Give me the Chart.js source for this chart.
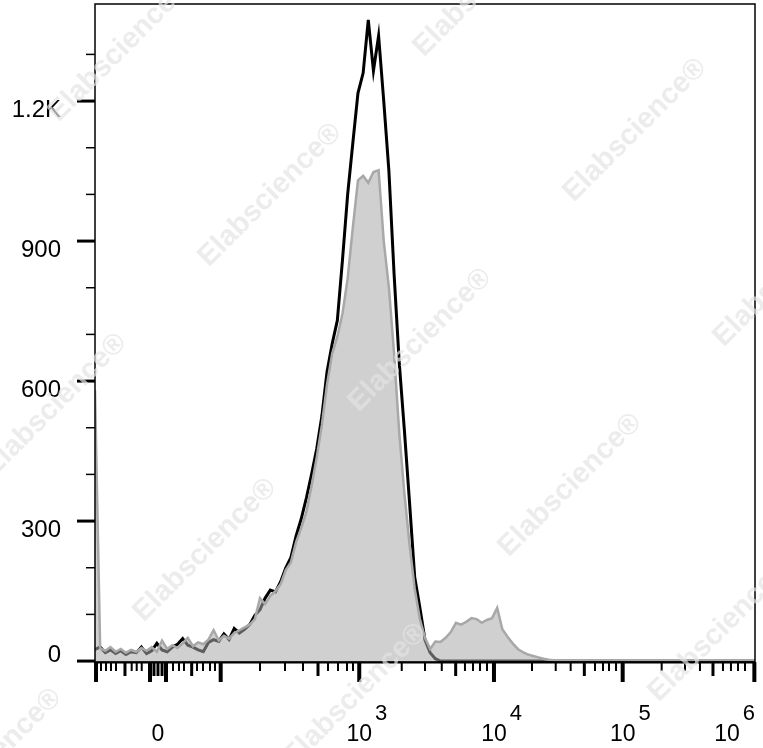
<!DOCTYPE html>
<html>
<head>
<meta charset="utf-8">
<title>Histogram</title>
<script src="https://cdn.jsdelivr.net/npm/chart.js@4.4.1/dist/chart.umd.min.js"></script>
<style>
  html, body { margin: 0; padding: 0; background: #fff; }
  canvas { display: block; }
</style>
</head>
<body>
<canvas id="histChart" width="763" height="748"></canvas>
<script>
// x axis is in display channels (0..1024), one point every 8 channels
const binWidth = 8;

// filled grey histogram
const controlCounts = [
    580, 28, 22, 30, 20, 26, 18, 24, 20, 28,
    22, 30, 20, 44, 26, 34, 28, 38, 50, 32,
    40, 36, 46, 66, 44, 54, 48, 60, 66, 72,
    78, 90, 135, 122, 140, 150, 165, 195, 212, 255,
    285, 320, 375, 436, 506, 593, 659, 695, 745, 820,
    929, 1030, 1040, 1025, 1048, 1052, 900, 800, 660, 490,
    360, 250, 155, 90, 50, 26, 42, 41, 50, 62,
    82, 78, 84, 92, 90, 82, 88, 92, 114, 68,
    52, 38, 26, 19, 14, 11, 8, 5, 3, 2,
    2, 2, 2, 2, 2, 2, 2, 2, 2, 2,
    2, 2, 2, 2, 2, 2, 2, 2, 2, 2,
    2, 2, 2, 2, 2, 2, 2, 2, 2, 2,
    2, 2, 2, 2, 2, 2, 2, 2, 2
];

// black outline histogram
const stainedCounts = [
    25, 30, 18, 24, 16, 22, 14, 20, 18, 30,
    16, 22, 38, 24, 20, 30, 36, 48, 34, 30,
    24, 20, 40, 46, 42, 58, 46, 70, 60, 68,
    78, 98, 110, 135, 152, 148, 170, 200, 222, 268,
    305, 350, 400, 455, 525, 620, 680, 730, 860, 1000,
    1110, 1217, 1260, 1374, 1265, 1340, 1200, 1050, 830, 640,
    495, 340, 180, 115, 45, 18, 5, 0, 0, 0,
    0, 0, 0, 0, 0, 0, 0, 0, 0, 0,
    0, 0, 0, 0, 0, 0, 0, 0, 0, 0,
    0, 0, 0, 0, 0, 0, 0, 0, 0, 0,
    0, 0, 0, 0, 0, 0, 0, 0, 0, 0,
    0, 0, 0, 0, 0, 0, 0, 0, 0, 0,
    0, 0, 0, 0, 0, 0, 0, 0, 0
];

// y axis
const yTicks = [0, 300, 600, 900, 1200];
const yTickLabels = ["0", "300", "600", "900", "1.2K"];
const yMinorTicks = [100, 200, 400, 500, 700, 800, 1000, 1100, 1300];

// x axis labels (channel position, base, exponent)
const xLabelTicks = [97.7, 410, 619, 818.7, 1023];
const xLabelBases = ["0", "10", "10", "10", "10"];
const xLabelExps = ["", "3", "4", "5", "6"];

// x axis tick marks in channels, grouped by length
const xTallTicks = [1.6, 85.3, 110.2, 195, 410, 619, 818.7, 1023];
const xMidTicks = [46.5, 91.5, 97.7, 104, 150, 346, 559.6, 759.2, 958.8];
const xShortTicks = [
    9.3, 17.1, 24.8, 32.6, 56.9, 64.7, 72.5,
    121, 130.3, 138.1, 158.3, 167.6, 178.4, 186.2,
    256, 294.8, 322.7, 361.5, 377, 391, 400.3,
    475.9, 512, 538, 574, 586.5, 597.3, 608.2,
    678, 714.8, 738, 775.8, 788.2, 797.5, 808.4,
    879.2, 915.4, 938.6, 974.3, 986.7, 997.6, 1008.5
];

const fontFamily = '"Liberation Sans", Arial, sans-serif';
Chart.defaults.font.family = fontFamily;

const toPoints = (counts) => counts.map((v, i) => ({ x: i * binWidth, y: v }));

// frame, tick marks, x labels with exponents, watermark
const axisDecor = {
    id: "axisDecor",
    afterDraw(chart) {
        const { ctx, chartArea: a, scales: { x, y } } = chart;
        ctx.save();

        ctx.strokeStyle = "#000";
        ctx.lineWidth = 1.5;
        ctx.strokeRect(a.left, a.top, a.right - a.left, a.bottom - a.top);
        ctx.lineWidth = 2;
        ctx.beginPath();
        ctx.moveTo(a.left, a.bottom + 0.5);
        ctx.lineTo(a.right, a.bottom + 0.5);
        ctx.stroke();

        const drawX = (vals, len, w) => {
            ctx.lineWidth = w;
            vals.forEach(v => {
                const px = x.getPixelForValue(v);
                ctx.beginPath();
                ctx.moveTo(px, a.bottom);
                ctx.lineTo(px, a.bottom + len);
                ctx.stroke();
            });
        };
        drawX(xShortTicks, 9, 2);
        drawX(xMidTicks, 14, 3);
        drawX(xTallTicks, 20, 4);

        const drawY = (vals, len, w) => {
            ctx.lineWidth = w;
            vals.forEach(v => {
                const py = y.getPixelForValue(v);
                ctx.beginPath();
                ctx.moveTo(a.left, py);
                ctx.lineTo(a.left - len, py);
                ctx.stroke();
            });
        };
        drawY(yMinorTicks, 9, 1.5);
        drawY(yTicks, 18, 3);

        ctx.fillStyle = "#000";
        ctx.textAlign = "left";
        ctx.textBaseline = "alphabetic";
        xLabelTicks.forEach((v, i) => {
            const px = x.getPixelForValue(v);
            ctx.font = "23px " + fontFamily;
            const wb = ctx.measureText(xLabelBases[i]).width;
            ctx.font = "22px " + fontFamily;
            const we = xLabelExps[i] ? ctx.measureText(xLabelExps[i]).width + 3 : 0;
            let left = px - wb / 2;
            if (left + wb + we > a.right) left = a.right - wb - we;
            ctx.font = "23px " + fontFamily;
            ctx.fillText(xLabelBases[i], left, a.bottom + 79);
            if (xLabelExps[i]) {
                ctx.font = "22px " + fontFamily;
                ctx.fillText(xLabelExps[i], left + wb + 3, a.bottom + 58);
            }
        });

        // watermark
        ctx.font = "bold 29px " + fontFamily;
        ctx.fillStyle = "rgba(228,228,228,0.7)";
        ctx.textAlign = "center";
        ctx.textBaseline = "middle";
        for (let i = -3; i <= 6; i++) {
            for (let j = -2; j <= 3; j++) {
                const cx = 120 + 150 * i - 65 * j;
                const cy = 50 + 145 * i + 355 * j;
                if (cx < -150 || cx > 913 || cy < -150 || cy > 898) continue;
                ctx.save();
                ctx.translate(cx, cy);
                ctx.rotate(-Math.PI / 4);
                ctx.fillText("Elabscience®", 0, 0);
                ctx.restore();
            }
        }

        ctx.restore();
    }
};

new Chart(document.getElementById("histChart"), {
    type: "line",
    data: {
        datasets: [{
            label: "Control",
            data: toPoints(controlCounts),
            order: 1,
            fill: "origin",
            backgroundColor: "rgba(170,170,170,0.55)",
            borderColor: "#a8a8a8",
            borderWidth: 2.5,
            pointRadius: 0,
            tension: 0
        }, {
            label: "Stained",
            data: toPoints(stainedCounts),
            order: 2,
            fill: false,
            borderColor: "#000",
            borderWidth: 3,
            pointRadius: 0,
            tension: 0
        }]
    },
    options: {
        responsive: false,
        animation: false,
        layout: { padding: { top: 4, right: 8, left: 0, bottom: 0 } },
        plugins: {
            legend: { display: false },
            tooltip: { enabled: false }
        },
        scales: {
            x: {
                type: "linear",
                min: 0,
                max: 1024,
                ticks: { display: false },
                grid: { display: false, drawTicks: false },
                border: { display: false },
                afterFit(scale) {
                    scale.height = 86;
                    scale.paddingLeft = 0;
                    scale.paddingRight = 0;
                }
            },
            y: {
                type: "linear",
                min: -2,
                max: 1408,
                afterBuildTicks(axis) {
                    axis.ticks = yTicks.map(v => ({ value: v }));
                },
                ticks: {
                    color: "#000",
                    font: { size: 24 },
                    padding: 34,
                    labelOffset: 9,
                    callback: function (value) {
                        const label = yTickLabels[yTicks.indexOf(value)];
                        return value === 0 ? [label, ""] : label;
                    }
                },
                grid: { display: false, drawTicks: false },
                border: { display: false },
                afterFit(scale) {
                    scale.width = 95;
                    scale.paddingTop = 0;
                    scale.paddingBottom = 0;
                }
            }
        }
    },
    plugins: [axisDecor]
});
</script>
</body>
</html>
